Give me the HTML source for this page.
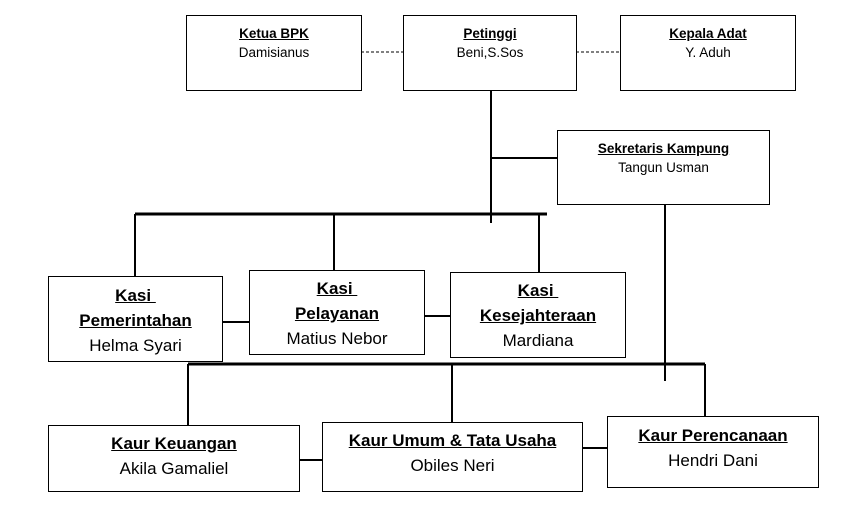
<!DOCTYPE html>
<html><head><meta charset="utf-8"><style>
body{margin:0;width:841px;height:522px;background:#fff;position:relative;overflow:hidden;font-family:"Liberation Sans",sans-serif;}
.b{position:absolute;border:1px solid #000;box-sizing:border-box;text-align:center;color:#000;background:#fff}
.s{font-size:13.5px;line-height:19px;padding-top:8px}
.l{font-size:17px;line-height:25px}
u{font-weight:bold}
svg{position:absolute;left:0;top:0}
</style></head><body>
<svg width="841" height="522">
<g stroke="#000" fill="none">
<line x1="361" y1="52" x2="403" y2="52" stroke-dasharray="3,2"/>
<line x1="576" y1="52" x2="620" y2="52" stroke-dasharray="3,2"/>
<line x1="491" y1="90" x2="491" y2="223" stroke-width="2"/>
<line x1="491" y1="158" x2="557" y2="158" stroke-width="2"/>
<line x1="665" y1="204" x2="665" y2="381" stroke-width="2"/>
<line x1="135" y1="214" x2="547" y2="214" stroke-width="3"/>
<line x1="135" y1="214" x2="135" y2="276" stroke-width="2"/>
<line x1="334" y1="214" x2="334" y2="270" stroke-width="2"/>
<line x1="539" y1="214" x2="539" y2="272" stroke-width="2"/>
<line x1="222" y1="322" x2="249" y2="322" stroke-width="2"/>
<line x1="424" y1="316" x2="450" y2="316" stroke-width="2"/>
<line x1="188" y1="364" x2="705" y2="364" stroke-width="3"/>
<line x1="188" y1="364" x2="188" y2="425" stroke-width="2"/>
<line x1="452" y1="364" x2="452" y2="422" stroke-width="2"/>
<line x1="705" y1="364" x2="705" y2="417" stroke-width="2"/>
<line x1="299" y1="460" x2="322" y2="460" stroke-width="2"/>
<line x1="582" y1="448" x2="607" y2="448" stroke-width="2"/>
</g></svg>
<div class="b s" style="left:186px;top:15px;width:176px;height:76px"><u>Ketua BPK</u><br>Damisianus</div>
<div class="b s" style="left:403px;top:15px;width:174px;height:76px"><u>Petinggi</u><br>Beni,S.Sos</div>
<div class="b s" style="left:620px;top:15px;width:176px;height:76px"><u>Kepala Adat</u><br>Y. Aduh</div>
<div class="b s" style="left:557px;top:130px;width:213px;height:75px"><u>Sekretaris Kampung</u><br>Tangun Usman</div>
<div class="b l" style="left:48px;top:276px;width:175px;height:86px;padding-top:6px"><u>Kasi&nbsp;</u><br><u>Pemerintahan</u><br>Helma Syari</div>
<div class="b l" style="left:249px;top:270px;width:176px;height:85px;padding-top:5px"><u>Kasi&nbsp;</u><br><u>Pelayanan</u><br>Matius Nebor</div>
<div class="b l" style="left:450px;top:272px;width:176px;height:86px;padding-top:5px"><u>Kasi&nbsp;</u><br><u>Kesejahteraan</u><br>Mardiana</div>
<div class="b l" style="left:48px;top:425px;width:252px;height:67px;padding-top:5px"><u>Kaur Keuangan</u><br>Akila Gamaliel</div>
<div class="b l" style="left:322px;top:422px;width:261px;height:70px;padding-top:5px"><u>Kaur Umum &amp; Tata Usaha</u><br>Obiles Neri</div>
<div class="b l" style="left:607px;top:416px;width:212px;height:72px;padding-top:6px"><u>Kaur Perencanaan</u><br>Hendri Dani</div>
</body></html>
